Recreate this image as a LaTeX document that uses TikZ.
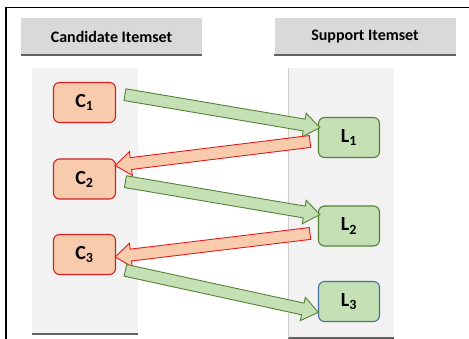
\documentclass[tikz,border=0pt]{standalone}
\usepackage{fontspec}
\setmainfont{Carlito}
\usetikzlibrary{shapes.arrows,calc}
\definecolor{hdrfill}{HTML}{D9D9D9}
\definecolor{hdrline}{HTML}{626262}
\definecolor{colfill}{HTML}{F2F2F2}
\definecolor{colside}{HTML}{CFCFCF}
\definecolor{cfill}{HTML}{F8CBAD}
\definecolor{cline}{HTML}{D42020}
\definecolor{gfill}{HTML}{C5E0B4}
\definecolor{gline}{HTML}{548235}
\definecolor{bline}{HTML}{41719C}
\definecolor{rarrow}{HTML}{E41B1B}
\newcommand\blockarrow[4]{%
  \path let \p1=(#1), \p2=(#2), \n1={atan2(\y2-\y1,\x2-\x1)}, \n2={veclen(\x2-\x1,\y2-\y1)} in
    ($(#1)!0.5!(#2)$) node[barrow, #3, rotate=\n1, minimum height=\n2] (#4) {};}
\begin{document}
\begin{tikzpicture}[x=1pt,y=-1pt,
  header/.style={fill=hdrfill, minimum width=181pt, minimum height=37pt, inner sep=0pt,
    font=\fontsize{16}{18}\selectfont\bfseries, text=black},
  colbg/.style={fill=colfill, inner sep=0pt, minimum width=106pt},
  cbox/.style={draw=cline, fill=cfill, line width=1.1pt, rounded corners=6pt,
    minimum width=62pt, minimum height=40pt, inner sep=0pt, font=\fontsize{20}{22}\selectfont\bfseries},
  lbox/.style={draw=gline, fill=gfill, line width=1.1pt, rounded corners=6pt,
    minimum width=61pt, minimum height=40pt, inner sep=0pt, font=\fontsize{20}{22}\selectfont\bfseries},
  barrow/.style={single arrow, inner xsep=0pt, inner ysep=5.5pt, minimum width=23pt,
    single arrow head extend=6pt, single arrow tip angle=74, line width=0.9pt, font=\tiny},
  garrow/.style={draw=gline, fill=gfill},
  rarr/.style={draw=rarrow, fill=cfill}]
\useasboundingbox (0,0) rectangle (469,339);
% outer frame
\draw[line width=1.5pt, black] (6,345) |- (475,7.5);
% headers
\node[header] (h1) at (111.5,36.5) {Candidate Itemset};
\node[header] (h2) at (365,36.5) {Support Itemset};
\draw[hdrline, line width=1.6pt] (h1.south west) -- (h1.south east);
\draw[hdrline, line width=1.6pt] (h2.south west) -- (h2.south east);
% column backgrounds
\node[colbg, minimum height=266pt] (col1) at (85,201) {};
\node[colbg, minimum height=270pt] (col2) at (341,203) {};
\draw[hdrline, line width=1.6pt] (col1.south west) -- (col1.south east);
\draw[hdrline, line width=1.6pt] (col2.south west) -- (col2.south east);
\draw[colside, line width=0.6pt] (col2.north west) -- (col2.south west);
% boxes
\node[cbox] (C1) at (84.5,102.5) {C\textsubscript{1}};
\node[cbox] (C2) at (84.5,179) {C\textsubscript{2}};
\node[cbox] (C3) at (84.5,254.5) {C\textsubscript{3}};
\node[lbox] (L1) at (349,137.5) {L\textsubscript{1}};
\node[lbox] (L2) at (349,226) {L\textsubscript{2}};
\node[lbox, draw=bline] (L3) at (349,301.5) {L\textsubscript{3}};
% arrows
\coordinate (g1s) at ($(C1.east)+(5,-8.5)$);
\coordinate (g1e) at ($(L1.west)+(-2,-10.5)$);
\coordinate (r1s) at ($(L1.west)+(-4,3.5)$);
\coordinate (r1e) at ($(C2.east)+(3,-14)$);
\coordinate (g2s) at ($(C2.east)+(5.5,2)$);
\coordinate (g2e) at ($(L2.west)+(-2,-12)$);
\coordinate (r2s) at ($(L2.west)+(-4,7)$);
\coordinate (r2e) at ($(C3.east)+(3,2)$);
\coordinate (g3s) at ($(C3.east)+(5.5,15)$);
\coordinate (g3e) at ($(L3.west)+(-3.5,10)$);
\blockarrow{g1s}{g1e}{garrow}{a1}
\blockarrow{r1s}{r1e}{rarr}{a2}
\blockarrow{g2s}{g2e}{garrow}{a3}
\blockarrow{r2s}{r2e}{rarr}{a4}
\blockarrow{g3s}{g3e}{garrow}{a5}
\end{tikzpicture}
\end{document}
